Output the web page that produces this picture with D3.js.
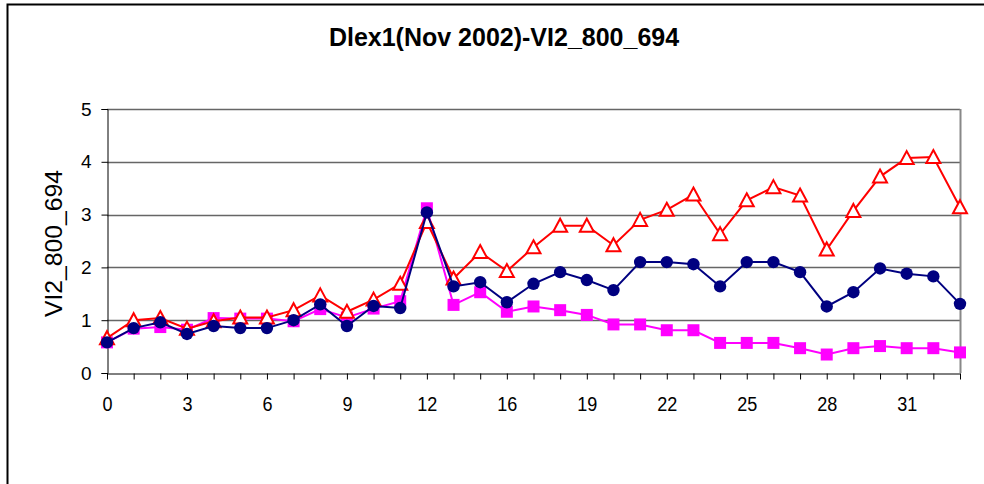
<!DOCTYPE html>
<html><head><meta charset="utf-8">
<script src="https://cdn.jsdelivr.net/npm/d3@7"></script>
<style>body{margin:0;background:#fff}svg{display:block}text{font-family:Arial,"Liberation Sans",sans-serif}</style>
</head><body><svg id="c" width="984" height="484"></svg>
<script>
const categories = [0,1,2,3,4,5,6,7,8,9,10,11,12,14,15,16,17,18,19,20,21,22,23,24,25,26,27,28,29,30,31,32,33];
const tickLabels = [0,3,6,9,12,16,19,22,25,28,31];
const magentaValues = [0.58,0.84,0.87,0.82,1.04,1.03,1.03,0.98,1.21,1.05,1.22,1.36,3.12,1.29,1.53,1.16,1.26,1.19,1.10,0.92,0.92,0.81,0.81,0.57,0.57,0.57,0.47,0.35,0.47,0.51,0.47,0.47,0.39];
const redValues = [0.66,1.00,1.04,0.84,0.98,1.05,1.05,1.19,1.47,1.16,1.39,1.69,2.86,1.79,2.29,1.93,2.38,2.79,2.79,2.42,2.90,3.09,3.38,2.63,3.27,3.52,3.36,2.34,3.07,3.72,4.07,4.09,3.14];
const navyValues = [0.58,0.85,0.96,0.74,0.89,0.85,0.85,1.00,1.30,0.89,1.27,1.23,3.04,1.64,1.72,1.34,1.69,1.91,1.76,1.57,2.10,2.10,2.06,1.64,2.10,2.10,1.91,1.26,1.53,1.98,1.88,1.83,1.31];
const yTicks = [0,1,2,3,4,5];
const title = "Dlex1(Nov 2002)-VI2_800_694";
const yTitle = "VI2_800_694";

const svg = d3.select("#c");
const L=107, R=960, T=109, B=373;
const x = d3.scalePoint().domain(d3.range(categories.length)).range([L,R]);
const y = d3.scaleLinear().domain([0,5]).range([B,T]);

// outer chart border
svg.append("rect").attr("x",7.5).attr("y",4.5).attr("width",1100).attr("height",600)
  .attr("fill","none").attr("stroke","#000").attr("stroke-width",2);

svg.append("text").attr("x",504).attr("y",46).attr("text-anchor","middle")
  .attr("font-weight","bold").attr("font-size",25).text(title);

// gridlines
svg.append("g").selectAll("line").data(yTicks.filter(d=>d>0)).join("line")
  .attr("x1",L).attr("x2",R).attr("y1",d=>Math.round(y(d))+0.5).attr("y2",d=>Math.round(y(d))+0.5)
  .attr("stroke","#666").attr("stroke-width",1.5);
// right plot border
svg.append("line").attr("x1",R+0.5).attr("x2",R+0.5).attr("y1",T).attr("y2",B)
  .attr("stroke","#888").attr("stroke-width",2);

// y axis
const ya = svg.append("g").attr("transform",`translate(${L+0.5},0)`)
  .call(d3.axisLeft(y).tickValues(yTicks).tickSize(6).tickPadding(10).tickFormat(d3.format("d")));
ya.select(".domain").attr("stroke","#000");
ya.selectAll("text").attr("font-size",19).attr("font-family","Arial,'Liberation Sans',sans-serif").attr("fill","#000");

// x axis
const xa = svg.append("g").attr("transform",`translate(0,${B+0.5})`)
  .call(d3.axisBottom(x).tickSize(6).tickSizeOuter(0).tickPadding(17)
    .tickFormat(i => tickLabels.includes(categories[i]) && (i%3===0) ? categories[i] : ""));
xa.select(".domain").attr("stroke","#000");
xa.selectAll("text").attr("font-size",21).attr("font-family","Arial,'Liberation Sans',sans-serif")
  .attr("fill","#000").attr("transform","scale(0.86,1)");

svg.append("text").attr("transform",`translate(62,243.5) rotate(-90)`).attr("text-anchor","middle")
  .attr("font-size",24).attr("textLength",147).attr("lengthAdjust","spacingAndGlyphs").text(yTitle);

const line = d3.line().x((d,i)=>x(i)).y(d=>y(d));
function series(vals,color,kind){
  const g = svg.append("g");
  g.append("path").datum(vals).attr("d",line).attr("fill","none").attr("stroke",color).attr("stroke-width",2);
  const m = g.selectAll(".m").data(vals).join(kind==="circle"?"circle":"path");
  if(kind==="circle"){
    m.attr("cx",(d,i)=>x(i)).attr("cy",d=>y(d)).attr("r",6.2).attr("fill",color);
  } else if(kind==="square"){
    m.attr("d",(d,i)=>{const cx=x(i),cy=y(d),s=6;return `M${cx-s},${cy-s}h${2*s}v${2*s}h${-2*s}Z`;}).attr("fill",color);
  } else {
    m.attr("d",(d,i)=>{const cx=x(i),cy=y(d);return `M${cx},${cy-7}L${cx+7},${cy+6}L${cx-7},${cy+6}Z`;})
     .attr("fill","#fff").attr("stroke",color).attr("stroke-width",2);
  }
}
series(magentaValues,"#FF00FF","square");
series(redValues,"#FF0000","triangle");
series(navyValues,"#000080","circle");
</script></body></html>
